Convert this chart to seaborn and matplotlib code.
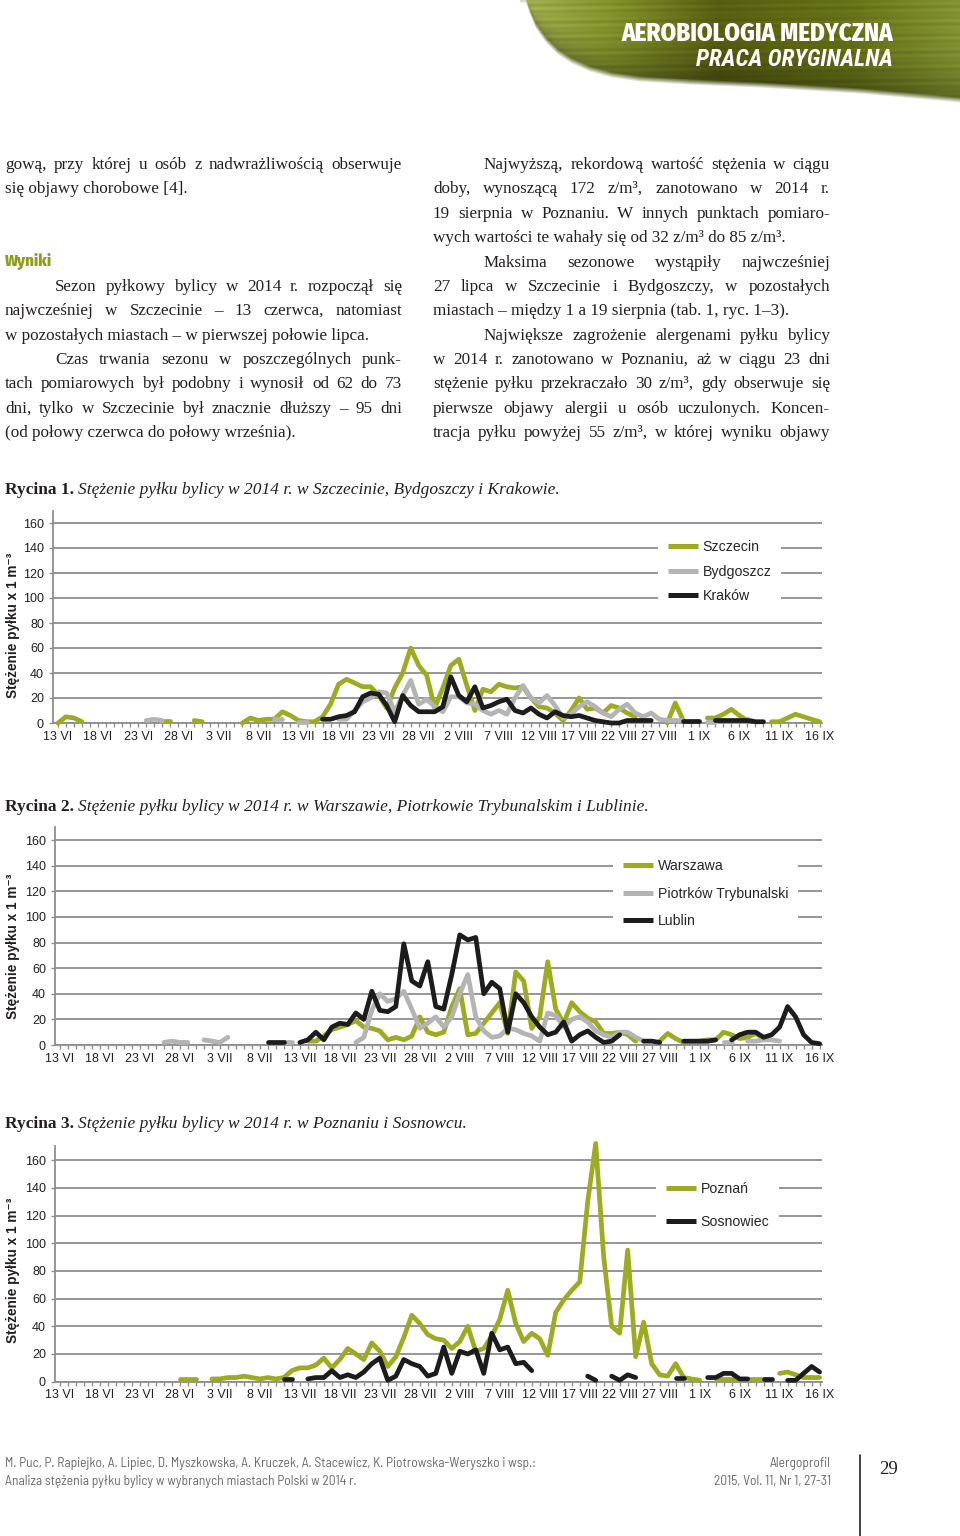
import numpy as np
import pandas as pd
import matplotlib
matplotlib.use("Agg")
import matplotlib.pyplot as plt
import seaborn as sns
from matplotlib import font_manager
from matplotlib.font_manager import FontProperties
from matplotlib.ft2font import FT2Font
from matplotlib.lines import Line2D

N = None

# dni od 13 VI do 16 IX 2014 (96 dni)
days = np.arange(96)
tick_labels = ["13 VI", "18 VI", "23 VI", "28 VI", "3 VII", "8 VII", "13 VII", "18 VII",
               "23 VII", "28 VII", "2 VIII", "7 VIII", "12 VIII", "17 VIII", "22 VIII",
               "27 VIII", "1 IX", "6 IX", "11 IX", "16 IX"]

# Rycina 1
szczecin = ([0, 5, 4, 1] + [N] * 9 + [2, 2, N, N, 2, 1] + [N] * 4 +
            [0, 4, 2, 3, 3, 9, 6, 2, 1, 1, 5, 15,
             31, 35, 32, 29, 29, 22, 12, 28, 40, 60, 46, 38,
             12, 28, 46, 51, 30, 10, 27, 25, 31, 29, 28, 29,
             20, 13, 12, 8, 2, 10, 20, 11, 12, 8, 14, 12, 8, 5] +
            [N, N, N, 0, 16, 2, N, N, 4, 4, 7, 11, 6, 2, N, N, 1, 1, 4, 7, 5, 3, 1])
bydgoszcz = ([N] * 11 + [2, 3, 2] + [N] * 13 + [3, 3, N, 1, 1, N, N, N] +
             [3, 3, 10, 17, 20, 25, 24, 9, 22, 34, 15, 19,
              13, 9, 21, 21, 16, 15, 10, 7, 10, 7, 20, 30,
              20, 16, 22, 14, 4, 7, 13, 17, 13, 8, 5, 11,
              15, 8, 5, 8, 3, 2, 2, 2] +
             [N, N, 1, 1, N, N, N, 3, 1] + [N] * 8)
krakow = ([N] * 33 +
          [3, 3, 5, 6, 9, 21, 24, 23, 14, 1, 22, 14,
           9, 9, 9, 13, 37, 22, 17, 29, 12, 14, 17, 19,
           10, 8, 12, 7, 4, 9, 6, 5, 6, 4, 2, 1,
           0, 0, 2, 2, 2, 2] +
          [N, N, N, 2, 2, 2, N, 2, 2, 2, 2, 2, 1, 1] + [N] * 7)

# Rycina 2
warszawa = ([N] * 31 +
            [3, 3, 7, 12, 14, 16, 19, 14, 13, 11, 4, 6,
             4, 7, 22, 10, 8, 10, 30, 44, 8, 9, 17, 25,
             33, 9, 57, 50, 13, 22, 65, 28, 17, 33, 26, 21,
             18, 9, 9, 10, 8, 3] +
            [N, N, 3, 9, 5, 2, N, 3, 4, 4, 10, 8, 5, 6, 9, 5] + [N] * 7)
piotrkow = ([N] * 13 + [2, 3, 2, 2, N, 4, 3, 2, 6] + [N] * 6 + [2, 2] + [N] * 7 +
            [2, 6, 27, 40, 34, 36, 42, 28, 13, 17, 22, 14,
             22, 40, 55, 22, 11, 6, 7, 13, 12, 9, 7, 3,
             25, 23, 14, 20, 22, 18, 11, 8, 6, 10, 10, 6, 3] +
            [N] * 4 + [3, 3, 3, 3, N, 2, 2, N, 3, 3, 4, 4, 3] + [N] * 5)
lublin = ([N] * 26 + [2, 2, 2, N] +
          [2, 4, 10, 4, 14, 17, 16, 25, 20, 42, 27, 26, 30, 79, 50,
           46, 65, 30, 28, 55, 86, 82, 84, 40, 49, 44, 10,
           40, 33, 22, 14, 8, 10, 18, 3, 8, 11, 6, 2, 3, 8] +
          [N, N, 3, 3, 2, N, N, 3, 3, 3, 3, 4, N] +
          [4, 8, 10, 10, 6, 8, 14, 30, 22, 8, 2, 1])

# Rycina 3
poznan = ([N] * 15 + [2, 2, 2, N] +
          [2, 2, 3, 3, 4, 3, 2, 3, 2, 3, 8, 10,
           10, 12, 17, 10, 16, 24, 20, 16, 28, 22, 11, 18,
           32, 48, 42, 34, 31, 30, 24, 29, 40, 22, 24, 33,
           45, 66, 42, 29, 35, 31, 19, 50, 59, 66, 72, 130,
           172, 90, 40, 35, 95, 18, 43, 13, 5, 4, 13, 3, 2, 1] +
          [N, 2, 2, 2, 2, 2, 2, 2, N, 6, 7, 5, 3, 3, 3])
sosnowiec = ([N] * 28 + [2, 2, N] +
             [2, 3, 3, 8, 3, 5, 3, 7, 13, 17, 1, 4, 16, 13,
              11, 4, 6, 25, 6, 22, 20, 23, 6, 35, 23, 25, 13, 14, 8] +
             [N] * 6 + [4, 1, N, 4, 1, 5, 3] + [N] * 4 + [3, 3, N, N] +
             [3, 3, 6, 6, 2, 2, N, 2, 2, N, 1, 1, 6, 11, 7])

GREEN, GREY, BLACK = "#9dab22", "#b4b4b4", "#1c1c1c"
GRID = "#8e8e8e"
TXT = "#231f20"

W, H = 960, 1536
sns.set_style("white")
plt.rcParams["font.family"] = ["Liberation Sans", "DejaVu Sans"]
SERIF = ["Liberation Serif", "DejaVu Serif"]

fig = plt.figure(figsize=(W / 100, H / 100), dpi=100)
renderer = fig.canvas.get_renderer()


def text_width(s, fp):
    t = fig.text(0, 0, s, fontproperties=fp)
    w = t.get_window_extent(renderer).width
    t.remove()
    return w


NEEDED = "AEROBIOLGMDYCZNPaciknsłęży0123456789.,:"
HEAD = "AEROBIOLOGIA MEDYCZNA"
FOOT1 = ("M. Puc, P. Rapiejko, A. Lipiec, D. Myszkowska, A. Kruczek, A. Stacewicz, "
         "K. Piotrowska-Weryszko i wsp.:")


def has_glyphs(path):
    try:
        cmap = FT2Font(path).get_charmap()
    except Exception:
        return False
    return all(ord(c) in cmap for c in NEEDED)


# waski krój (Narrow / Condensed) o szerokosci najblizszej oryginalowi
def face(bold, italic, probe, target):
    best, best_d = None, None
    for f in font_manager.fontManager.ttflist:
        if not ("Narrow" in f.name or "Condensed" in f.name or
                f.stretch in ("condensed", "semi-condensed", "extra-condensed")):
            continue
        wt = f.weight if isinstance(f.weight, (int, float)) else font_manager.weight_dict.get(f.weight, 400)
        if bold and not (600 <= wt <= 800):
            continue
        if not bold and not (350 <= wt <= 500):
            continue
        if (f.style != "normal") != italic:
            continue
        if not has_glyphs(f.fname):
            continue
        d = abs(text_width(probe, FontProperties(fname=f.fname, size=10)) - target)
        if best_d is None or d < best_d:
            best, best_d = f.fname, d
    if best:
        return FontProperties(fname=best)
    if italic:
        return face(bold, False, probe, target) if bold else FontProperties(family="Liberation Sans", style="italic")
    return FontProperties(family="Liberation Sans", weight="bold" if bold else "normal")


NB = face(True, False, HEAD, 152)
NBI = face(True, True, HEAD, 152)
NR = face(False, False, FOOT1, 550)


def fy(y):
    return 1 - y / H


def px_axes(l, t, r, b):
    return fig.add_axes([l / W, 1 - b / H, (r - l) / W, (b - t) / H])


def sized(fp, size):
    p = fp.copy()
    p.set_size(size)
    return p


def fit_size(s, target, fp):
    return 10 * target / text_width(s, sized(fp, 10))


def put_line(x0, x1, y, s, justify, **kw):
    if not justify:
        fig.text(x0 / W, fy(y), s, ha="left", va="baseline", **kw)
        return
    words = s.split(" ")
    objs = [fig.text(0, fy(y), w, ha="left", va="baseline", **kw) for w in words]
    widths = [o.get_window_extent(renderer).width for o in objs]
    gap = max((x1 - x0 - sum(widths)) / (len(words) - 1), 2.5)
    x = x0
    for o, w in zip(objs, widths):
        o.set_x(x / W)
        x += w + gap


# ---- naglowek
bax = px_axes(520, 0, 960, 108)
bx, by = np.meshgrid(np.arange(520, 960) + 0.5, np.arange(0, 108) + 0.5)
bottom = np.interp(bx, [526, 530, 536, 546, 558, 572, 590, 612, 640, 690, 760, 860, 960],
                   [0, 12, 26, 40, 52, 61, 69, 75, 79, 82, 85, 91, 100])
alpha = np.clip((bottom - by) / 6.0 + 0.5, 0, 1)
tt = (bx - 520) / 440
stops = [0, 0.2, 0.45, 0.75, 1]
rgb = np.dstack([np.interp(tt, stops, [0.64, 0.52, 0.34, 0.40, 0.52]),
                 np.interp(tt, stops, [0.69, 0.58, 0.37, 0.45, 0.58]),
                 np.interp(tt, stops, [0.32, 0.17, 0.07, 0.09, 0.20])])
rel = by / np.maximum(bottom, 1)
shade = (1 - 0.32 * np.clip(rel, 0, 1) ** 3) * (1 + 0.07 * np.sin(by * 0.9 + bx * 0.012) * np.sin(by * 0.21))
rgb = np.clip(rgb * shade[..., None], 0, 1)
bax.imshow(np.dstack([rgb, alpha]), extent=(520, 960, 108, 0), aspect="auto", interpolation="bilinear")
bax.axis("off")

hs = min(fit_size(HEAD, 273, NB), 20)
fig.text(893 / W, fy(41), HEAD, ha="right", va="baseline", color="white",
         fontproperties=sized(NB, hs))
hs2 = min(fit_size("PRACA ORYGINALNA", 196, NBI), 20)
fig.text(893 / W, fy(66), "PRACA ORYGINALNA", ha="right", va="baseline", color="white",
         fontproperties=sized(NBI, hs2))

# ---- tekst w dwoch kolumnach
BODY = dict(fontsize=12.3, family=SERIF, color=TXT)
left_lines = [
    (169, 5, "gową, przy której u osób z nadwrażliwością obserwuje", True),
    (193, 5, "się objawy chorobowe [4].", False),
    (291, 55, "Sezon pyłkowy bylicy w 2014 r. rozpoczął się", True),
    (315, 5, "najwcześniej w Szczecinie – 13 czerwca, natomiast", True),
    (340, 5, "w pozostałych miastach – w pierwszej połowie lipca.", False),
    (364, 55, "Czas trwania sezonu w poszczególnych punk-", True),
    (388, 5, "tach pomiarowych był podobny i wynosił od 62 do 73", True),
    (413, 5, "dni, tylko w Szczecinie był znacznie dłuższy – 95 dni", True),
    (437, 5, "(od połowy czerwca do połowy września).", False),
]
right_lines = [
    (169, 484, "Najwyższą, rekordową wartość stężenia w ciągu", True),
    (193, 433, "doby, wynoszącą 172 z/m³, zanotowano w 2014 r.", True),
    (218, 433, "19 sierpnia w Poznaniu. W innych punktach pomiaro-", True),
    (242, 433, "wych wartości te wahały się od 32 z/m³ do 85 z/m³.", False),
    (267, 484, "Maksima sezonowe wystąpiły najwcześniej", True),
    (291, 433, "27 lipca w Szczecinie i Bydgoszczy, w pozostałych", True),
    (315, 433, "miastach – między 1 a 19 sierpnia (tab. 1, ryc. 1–3).", False),
    (340, 484, "Największe zagrożenie alergenami pyłku bylicy", True),
    (364, 433, "w 2014 r. zanotowano w Poznaniu, aż w ciągu 23 dni", True),
    (388, 433, "stężenie pyłku przekraczało 30 z/m³, gdy obserwuje się", True),
    (413, 433, "pierwsze objawy alergii u osób uczulonych. Koncen-", True),
    (437, 433, "tracja pyłku powyżej 55 z/m³, w której wyniku objawy", True),
]
for y, x0, s, j in left_lines:
    put_line(x0, 402, y, s, j, **BODY)
for y, x0, s, j in right_lines:
    put_line(x0, 830, y, s, j, **BODY)

ws = min(fit_size("Wyniki", 48, NB), 13.5)
fig.text(5 / W, fy(266), "Wyniki", ha="left", va="baseline", color="#8e9c1c",
         fontproperties=sized(NB, ws))


def caption(y, num, rest):
    t = fig.text(5 / W, fy(y), num, ha="left", va="baseline", fontsize=12.5,
                 family=SERIF, weight="bold", color=TXT)
    w = t.get_window_extent(renderer).width
    fig.text((5 + w + 4) / W, fy(y), rest, ha="left", va="baseline", fontsize=12.5,
             family=SERIF, style="italic", color=TXT)


# ---- wykresy
def long_frame(series):
    parts = []
    for city, vals in series.items():
        v = np.array([np.nan if x is None else x for x in vals], float)
        seg = np.cumsum(np.isnan(v))
        ok = ~np.isnan(v)
        parts.append(pd.DataFrame({"city": city, "day": days[ok], "value": v[ok], "seg": seg[ok]}))
    return pd.concat(parts, ignore_index=True)


def draw_chart(box, series, colors, leg_xy, leg_space, ylab_y):
    ax = px_axes(*box)
    frame = long_frame(series)
    order = list(series.keys())
    sns.lineplot(data=frame, x="day", y="value", hue="city", units="seg", estimator=None,
                 hue_order=order, palette=dict(zip(order, colors)), linewidth=3.4,
                 legend=False, ax=ax, solid_capstyle="round", solid_joinstyle="round",
                 zorder=3, clip_on=False)
    ax.set_xlim(-0.62, 95.3)
    ax.set_ylim(0, 170)
    ax.set_yticks(range(0, 161, 20))
    ax.set_xticks(range(0, 96, 5))
    ax.set_xticklabels(tick_labels)
    ax.set_xticks(range(96), minor=True)
    ax.yaxis.grid(True, color=GRID, lw=1.3)
    ax.xaxis.grid(False)
    ax.set_axisbelow(True)
    for s in ["top", "right"]:
        ax.spines[s].set_visible(False)
    for s in ["left", "bottom"]:
        ax.spines[s].set_color(GRID)
        ax.spines[s].set_linewidth(1.3)
    ax.tick_params(which="both", direction="out", length=3, width=1, color=GRID,
                   bottom=True, left=True)
    ax.tick_params(axis="y", labelsize=9, labelcolor=TXT, pad=3.5)
    ax.tick_params(axis="x", labelsize=9, labelcolor=TXT, pad=2.5)
    ax.set_xlabel("")
    ax.set_ylabel("")
    handles = [Line2D([], [], color=c, lw=3.6, solid_capstyle="butt") for c in colors]
    ax.legend(handles, order, loc="upper left", bbox_to_anchor=(leg_xy[0] / W, fy(leg_xy[1])),
              bbox_transform=fig.transFigure, borderaxespad=0, borderpad=0.7,
              handlelength=2.1, handletextpad=0.35, labelspacing=leg_space, fontsize=10.2,
              frameon=True, facecolor="white", edgecolor="none", framealpha=1, fancybox=False)
    fig.text(13 / W, fy(ylab_y), "Stężenie pyłku x 1 m⁻³", rotation=90, ha="center", va="center",
             fontsize=9.8, weight="bold", color=TXT)
    return ax


caption(494, "Rycina 1.", "Stężenie pyłku bylicy w 2014 r. w Szczecinie, Bydgoszczy i Krakowie.")
draw_chart((53, 723 - 170 * 1.25, 822, 723),
           {"Szczecin": szczecin, "Bydgoszcz": bydgoszcz, "Kraków": krakow},
           [GREEN, GREY, BLACK], (658, 530), 0.75, 625)

caption(811, "Rycina 2.", "Stężenie pyłku bylicy w 2014 r. w Warszawie, Piotrkowie Trybunalskim i Lublinie.")
draw_chart((55, 1045 - 170 * 1.281, 822, 1045),
           {"Warszawa": warszawa, "Piotrków Trybunalski": piotrkow, "Lublin": lublin},
           [GREEN, GREY, BLACK], (613, 849), 0.97, 946)

caption(1128, "Rycina 3.", "Stężenie pyłku bylicy w 2014 r. w Poznaniu i Sosnowcu.")
draw_chart((55, 1381.7 - 170 * 1.385, 822, 1381.7),
           {"Poznań": poznan, "Sosnowiec": sosnowiec},
           [GREEN, BLACK], (656, 1172), 1.32, 1270)

# ---- stopka
FOOTC = "#6a6a6a"
fp_foot = sized(NR, min(fit_size(FOOT1, 532, NR), 10))
foot_kw = dict(fontproperties=fp_foot, color=FOOTC, va="baseline")
fig.text(5 / W, fy(1467), FOOT1, ha="left", **foot_kw)
fig.text(5 / W, fy(1485), "Analiza stężenia pyłku bylicy w wybranych miastach Polski w 2014 r.",
         ha="left", **foot_kw)
fig.text(831 / W, fy(1467), "Alergoprofil", ha="right", **foot_kw)
fig.text(831 / W, fy(1485), "2015, Vol. 11, Nr 1, 27-31", ha="right", **foot_kw)
fig.add_artist(Line2D([860 / W, 860 / W], [fy(1455), fy(1536)], color="#222222", lw=1.2,
                      transform=fig.transFigure))
fig.text(888 / W, fy(1474), "29", ha="center", va="baseline", fontsize=13.5, family=SERIF, color=TXT)

fig.savefig("out.png", dpi=100, facecolor="white")
